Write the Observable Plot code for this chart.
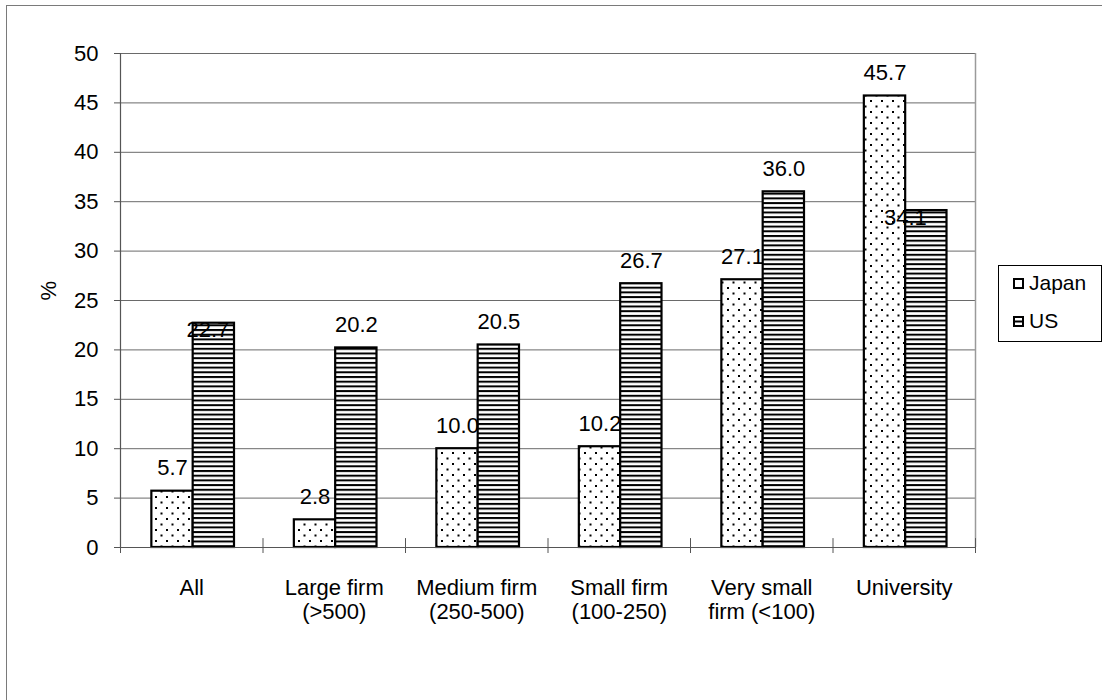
<!DOCTYPE html>
<html><head><meta charset="utf-8">
<script src="https://cdn.jsdelivr.net/npm/d3@7"></script>
<script src="https://cdn.jsdelivr.net/npm/@observablehq/plot@0.6"></script>
<style>
html,body{margin:0;padding:0;background:#fff;overflow:hidden;width:1102px;height:700px}
#wrap{position:relative;width:1102px;height:700px;font-family:"Liberation Sans",Arial,sans-serif;overflow:hidden}
#border{position:absolute;left:6px;top:5px;width:1300px;height:900px;border-left:1.5px solid #7a7a7a;border-top:1.5px solid #7a7a7a}
#chart{position:absolute;left:0;top:0}
#legend{position:absolute;left:998px;top:265px;width:102px;height:75px;border:1px solid #000;background:#fff;font-size:21px;color:#000}
#legend .item{position:absolute;left:14px;height:24px;display:flex;align-items:center}
#legend svg{margin-right:5px}
</style>
</head><body>
<svg width="0" height="0" style="position:absolute">
  <defs>
    <pattern id="dots" patternUnits="userSpaceOnUse" width="11" height="11">
      <rect width="11" height="11" fill="#fff"/>
      <rect x="1" y="1" width="2" height="2" fill="#000"/>
      <rect x="6.5" y="6.5" width="2" height="2" fill="#000"/>
    </pattern>
    <pattern id="hlines" patternUnits="userSpaceOnUse" width="10" height="4.7">
      <rect width="10" height="4.7" fill="#fff"/>
      <rect x="0" y="0" width="10" height="2" fill="#000"/>
    </pattern>
  </defs>
</svg>
<div id="wrap">
  <div id="border"></div>
  <div id="chart"></div>
  <div id="legend">
    <div class="item" style="top:5px"><svg width="11" height="11"><rect x="1" y="1" width="9" height="9" fill="#fff" stroke="#000" stroke-width="2"/></svg>Japan</div>
    <div class="item" style="top:43px"><svg width="11" height="11"><rect x="1" y="1" width="9" height="9" fill="#fff" stroke="#000" stroke-width="2"/><rect x="1" y="4.5" width="9" height="2" fill="#000"/></svg>US</div>
  </div>
</div>
<script>
const categories = ["All", "Large firm\n(>500)", "Medium firm\n(250-500)", "Small firm\n(100-250)", "Very small\nfirm (<100)", "University"];
const seriesNames = ["Japan", "US"];
const japanValues = [5.7, 2.8, 10.0, 10.2, 27.1, 45.7];
const usValues = [22.7, 20.2, 20.5, 26.7, 36.0, 34.1];
const yTickValues = [0, 5, 10, 15, 20, 25, 30, 35, 40, 45, 50];
const yLabel = "%";

const rows = categories.flatMap((c, i) => [
  {cat: c, i, series: seriesNames[0], value: japanValues[i]},
  {cat: c, i, series: seriesNames[1], value: usValues[i]}
]);

// bar placement within each category slot (style)
const barStart = {Japan: 0.22, US: 0.51};
const barEnd = {Japan: 0.51, US: 0.80};
const fills = {Japan: "url(#dots)", US: "url(#hlines)"};
const fmt = d3.format(".1f");
const FS = 22;

// manual label nudges like the original (px)
const nudges = {"US|All": {dx: -6, dy: 7}, "US|University": {dx: -21, dy: 7}};
const key = d => d.series + "|" + d.cat;
const labelX = d => d.i + (barStart[d.series] + barEnd[d.series]) / 2;

const labelMarks = [
  Plot.text(rows.filter(d => !nudges[key(d)]), {
    x: labelX, y: "value", text: d => fmt(d.value), dy: -23, fontSize: FS, fill: "#000"
  }),
  ...Object.entries(nudges).map(([k, n]) =>
    Plot.text(rows.filter(d => key(d) === k), {
      x: labelX, y: "value", text: d => fmt(d.value), dx: n.dx, dy: n.dy, fontSize: FS, fill: "#000"
    })
  )
];

const slotEdges = d3.range(categories.length + 1);

const chart = Plot.plot({
  width: 1102,
  height: 700,
  marginLeft: 120,
  marginRight: 127,
  marginTop: 53,
  marginBottom: 153,
  style: {fontSize: FS + "px", fontFamily: "'Liberation Sans', Arial, sans-serif", color: "#000", background: "transparent"},
  x: {type: "linear", domain: [0, categories.length], axis: null},
  y: {domain: [0, 50], axis: null},
  marks: [
    Plot.gridY(yTickValues.filter(v => v > 0), {stroke: "#6a6a6a", strokeOpacity: 1, strokeWidth: 1}),
    Plot.ruleX([categories.length], {y1: 0, y2: 50, stroke: "#9a9a9a", strokeWidth: 1.5}),
    Plot.rectY(rows, {
      x1: d => d.i + barStart[d.series],
      x2: d => d.i + barEnd[d.series],
      y: "value",
      fill: d => fills[d.series],
      stroke: "#000",
      strokeWidth: 2.2
    }),
    Plot.axisY({ticks: yTickValues, tickSize: 6, tickPadding: 16, stroke: "#555", fontSize: FS, label: null, fill: "#000"}),
    Plot.ruleX([0], {y1: 0, y2: 50, stroke: "#555", strokeWidth: 1.2}),
    Plot.ruleY([0], {stroke: "#555", strokeWidth: 1.2}),
    Plot.axisX({ticks: slotEdges, tickSize: 6, tickFormat: () => "", stroke: "#555", label: null}),
    Plot.ruleX(slotEdges, {y1: 0, y2: 0.9, stroke: "#555", strokeWidth: 1}),
    Plot.text(categories, {
      x: (d, i) => i + 0.5, y: () => 0, text: d => d, dy: 30, lineAnchor: "top", lineHeight: 1.1, fontSize: FS, fill: "#000"
    }),
    Plot.text([yLabel], {frameAnchor: "left", dx: -72, rotate: -90, fontSize: FS, fill: "#000"}),
    ...labelMarks
  ]
});
document.getElementById("chart").append(chart);
</script>
</body></html>
